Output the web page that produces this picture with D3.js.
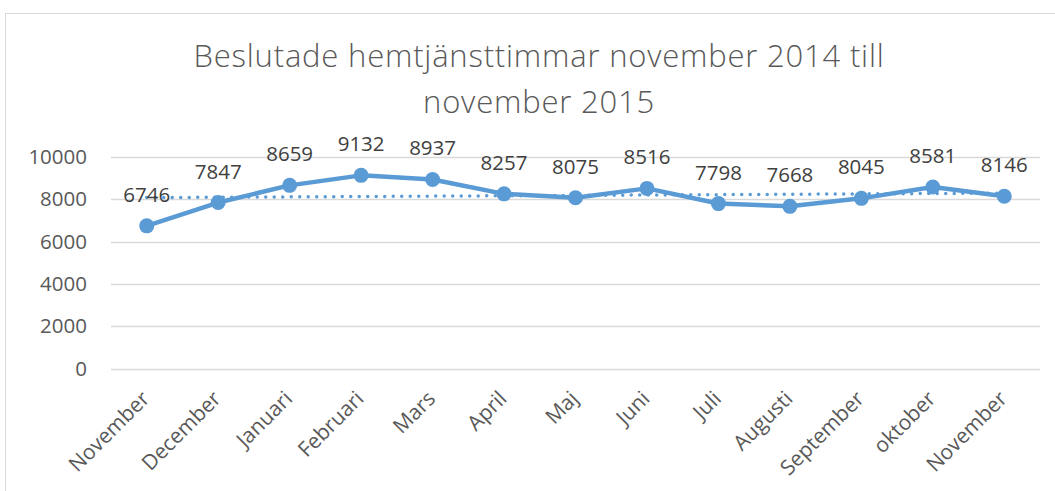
<!DOCTYPE html>
<html>
<head>
<meta charset="utf-8">
<script src="https://cdn.jsdelivr.net/npm/d3@7"></script>
<style>
  html, body { margin: 0; padding: 0; background: #fff; }
  svg { display: block; font-family: "Open Sans", Lato, sans-serif; }
</style>
</head>
<body>
<svg width="1055" height="491"></svg>
<script>
const months = ['November', 'December', 'Januari', 'Februari', 'Mars', 'April', 'Maj',
  'Juni', 'Juli', 'Augusti', 'September', 'oktober', 'November']
const hours = [6746, 7847, 8659, 9132, 8937, 8257, 8075, 8516, 7798, 7668, 8045, 8581, 8146]
const yTicks = [0, 2000, 4000, 6000, 8000, 10000]
const titleLines = ['Beslutade hemtjänsttimmar november 2014 till', 'november 2015']

const width = 1055
const height = 491
const marge = {top: 157, bottom: 123, left: 111, right: 15}

const svg = d3.select('svg')

// ram runt diagrammet
svg.append('rect')
  .attr('x', 5.5).attr('y', 13.5)
  .attr('width', 1200).attr('height', 600)
  .attr('fill', 'none').attr('stroke', '#d9d9d9').attr('stroke-width', 1)

// titel
svg.append('g').selectAll('text').data(titleLines).enter().append('text')
  .attr('x', 539).attr('y', (d, i) => 67 + i * 46)
  .attr('text-anchor', 'middle')
  .attr('font-size', 31)
  .attr('font-weight', 300)
  .attr('letter-spacing', 0.8)
  .attr('fill', '#595959')
  .text(d => d)

const x = d3.scalePoint()
  .domain(d3.range(months.length))
  .range([marge.left, width - marge.right])
  .padding(0.5)

const y = d3.scaleLinear()
  .domain([0, 10000])
  .range([height - marge.bottom + 0.5, marge.top])

// rutnät
svg.append('g').selectAll('line').data(yTicks).enter().append('line')
  .attr('x1', marge.left).attr('x2', width - marge.right)
  .attr('y1', d => Math.round(y(d)) + 0.5).attr('y2', d => Math.round(y(d)) + 0.5)
  .attr('stroke', '#d9d9d9').attr('stroke-width', 1.5)

// y-axel
const yAxis = svg.append('g')
  .attr('transform', `translate(${marge.left - 24},0)`)
  .call(d3.axisLeft(y).tickValues(yTicks).tickSize(0).tickPadding(0).tickFormat(d3.format('d')))
yAxis.select('.domain').remove()
yAxis.selectAll('text').attr('font-size', 20.5).attr('fill', '#595959').attr('font-family', '"Open Sans"')

// x-axel, roterade etiketter
svg.append('g').selectAll('text').data(months).enter().append('text')
  .attr('transform', (d, i) => `translate(${x(i) + 4},${height - marge.bottom + 32}) rotate(-45)`)
  .attr('text-anchor', 'end')
  .attr('font-size', 21)
  .attr('fill', '#595959')
  .text(d => d)

// linjär trendlinje
const idx = d3.range(hours.length)
const mx = d3.mean(idx)
const my = d3.mean(hours)
const slope = d3.sum(idx, i => (i - mx) * (hours[i] - my)) / d3.sum(idx, i => (i - mx) * (i - mx))
const trend = idx.map(i => my + slope * (i - mx))

svg.append('path')
  .datum(trend)
  .attr('d', d3.line().x((d, i) => x(i)).y(d => y(d)))
  .attr('fill', 'none')
  .attr('stroke', '#5b9bd5')
  .attr('stroke-width', 3.5)
  .attr('stroke-linecap', 'round')
  .attr('stroke-dasharray', '0 8.5')

// serielinje
svg.append('path')
  .datum(hours)
  .attr('d', d3.line().x((d, i) => x(i)).y(d => y(d)))
  .attr('fill', 'none')
  .attr('stroke', '#5b9bd5')
  .attr('stroke-width', 4.5)
  .attr('stroke-linejoin', 'round')

svg.append('g').selectAll('circle').data(hours).enter().append('circle')
  .attr('cx', (d, i) => x(i)).attr('cy', d => y(d))
  .attr('r', 7.5)
  .attr('fill', '#5b9bd5')

// dataetiketter
svg.append('g').selectAll('text').data(hours).enter().append('text')
  .attr('x', (d, i) => x(i)).attr('y', d => y(d) - 24)
  .attr('text-anchor', 'middle')
  .attr('font-size', 20.5)
  .attr('fill', '#404040')
  .text(d => d)
</script>
</body>
</html>
